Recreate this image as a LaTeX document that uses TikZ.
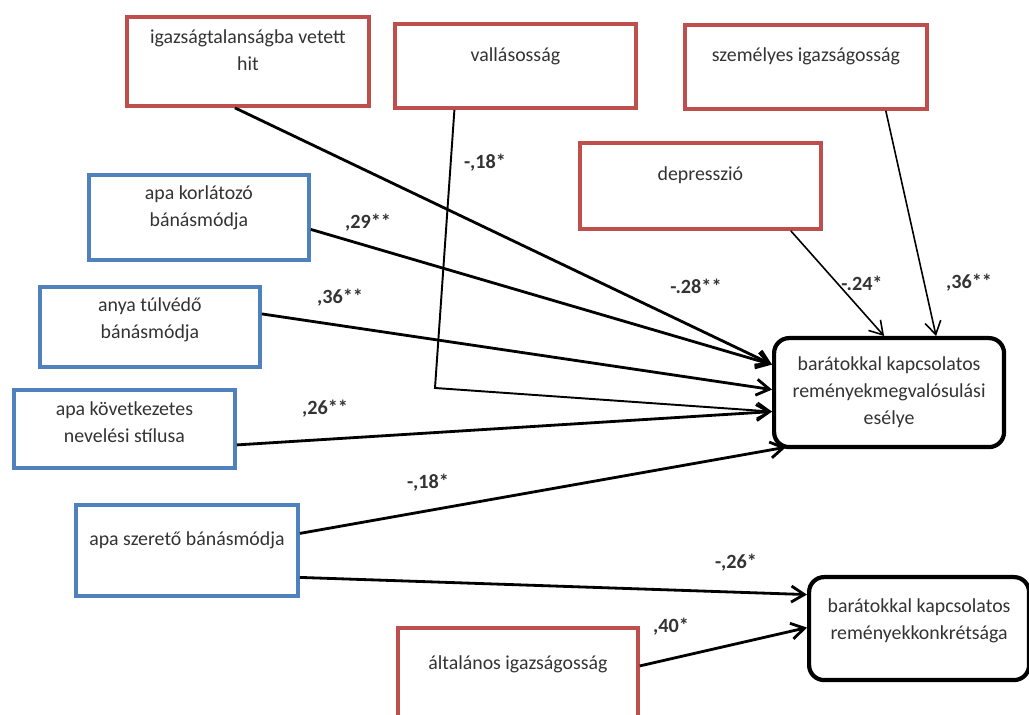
\documentclass[tikz,border=0pt]{standalone}
\usepackage{fontspec}
\setmainfont{Carlito}
\usepackage{tikz}
\usetikzlibrary{arrows.meta,calc}

\begin{document}
\begin{tikzpicture}[x=0.02cm, y=-0.02cm]
	\definecolor{color1}{rgb}{0.75, 0.31, 0.30}
	\definecolor{color2}{rgb}{0.31, 0.51, 0.74}
	\definecolor{color3}{gray}{0.2}
	\tikzset{
		box/.style={draw, line width=2.2pt, anchor=north west, inner sep=0pt, align=flush center,
			font=\fontsize{11.3}{15.4}\selectfont, text=color3},
		redbox/.style={box, draw=color1},
		bluebox/.style={box, draw=color2},
		outbox/.style={box, draw=black, line width=2.4pt, rounded corners=0.3cm},
		link/.style={line width=1.6pt, -{Straight Barb[length=2.6mm,width=3.2mm]}},
		thinlink/.style={link, line width=0.9pt},
		coef/.style={font=\fontsize{11.5}{13}\selectfont\bfseries, text=color3}
	}
	\useasboundingbox (0,0) rectangle (1029,715);
	\clip (0,0) rectangle (1029,715);
	%% Vertices ------
	\node[redbox, text width=4.84cm, text height=0.54cm, text depth=1.24cm] (igaz) at (125,15) {igazságtalanságba vetett\\hit};
	\node[redbox, text width=4.82cm, text height=0.76cm, text depth=0.92cm] (vallas) at (393,22) {vallásosság};
	\node[redbox, text width=4.84cm, text height=0.74cm, text depth=0.94cm] (szem) at (683,23) {személyes igazságosság};
	\node[redbox, text width=4.82cm, text height=0.76cm, text depth=0.96cm] (depr) at (578,141) {depresszió};
	\node[bluebox, text width=4.40cm, text height=0.50cm, text depth=1.20cm] (korl) at (87,173) {apa korlátozó\\bánásmódja};
	\node[bluebox, text width=4.40cm, text height=0.50cm, text depth=1.10cm] (anya) at (38,285) {anya túlvédő\\bánásmódja};
	\node[bluebox, text width=4.42cm, text height=0.52cm, text depth=1.04cm] (kovet) at (12,388) {apa következetes\\nevelési stílusa};
	\node[bluebox, text width=4.44cm, text height=0.82cm, text depth=1.00cm] (szeret) at (74,503) {apa szerető bánásmódja};
	\node[redbox, text width=4.80cm, text height=0.84cm, text depth=1.16cm] (altal) at (396,626) {általános igazságosság};
	\node[outbox, text width=4.60cm, text height=0.64cm, text depth=1.54cm] (esely) at (772,336) {barátokkal kapcsolatos\\reményekmegvalósulási\\esélye};
	\node[outbox, text width=4.40cm, text height=0.70cm, text depth=1.36cm] (konkr) at (807,575) {barátokkal kapcsolatos\\reményekkonkrétsága};
	\coordinate (elbow) at (435,388);
	%% Edges ---------
	\draw[link] ($(igaz.south)+(-13,0)$) -- ($(esely.west)+(0,-28)$);
	\draw[link] ($(korl.east)+(0,12)$) -- ($(esely.west)+(0,-28)$);
	\draw[link] ($(anya.east)+(0,-13)$) -- ($(esely.west)+(0,-3)$);
	\draw[link, line width=1.1pt] ($(vallas.south)+(-61,0)$) -- (elbow) -- ($(esely.west)+(0,19)$);
	\draw[link] ($(kovet.east)+(0,16)$) -- ($(esely.west)+(0,19)$);
	\draw[link] ($(szeret.east)+(0,-17)$) -- ($(esely.south west)+(14,-2)$);
	\draw[link] ($(szeret.east)+(0,27)$) -- ($(konkr.west)+(0,-34)$);
	\draw[link] ($(altal.east)+(0,-12)$) -- ($(konkr.west)+(0,-1)$);
	\draw[thinlink] ($(depr.south east)+(-32,0)$) -- ($(esely.north)+(-5,0)$);
	\draw[thinlink] ($(szem.south east)+(-43,0)$) -- ($(esely.north)+(47,0)$);
	%% Coefficients --
	\node[coef] (cvallas) at (485,163) {-,18*};
	\node[coef] (ckorl) at (368,223) {,29**};
	\node[coef] (canya) at (340,298) {,36**};
	\node[coef] (cigaz) at (696,286) {-.28**};
	\node[coef] (cdepr) at (862,283) {-.24*};
	\node[coef] (cszem) at (969,283) {,36**};
	\node[coef] (ckovet) at (325,409) {,26**};
	\node[coef] (cszeret) at (428,483) {-,18*};
	\node[coef] (ckonkr) at (736,563) {-,26*};
	\node[coef] (caltal) at (671,627) {,40*};
\end{tikzpicture}
\end{document}
